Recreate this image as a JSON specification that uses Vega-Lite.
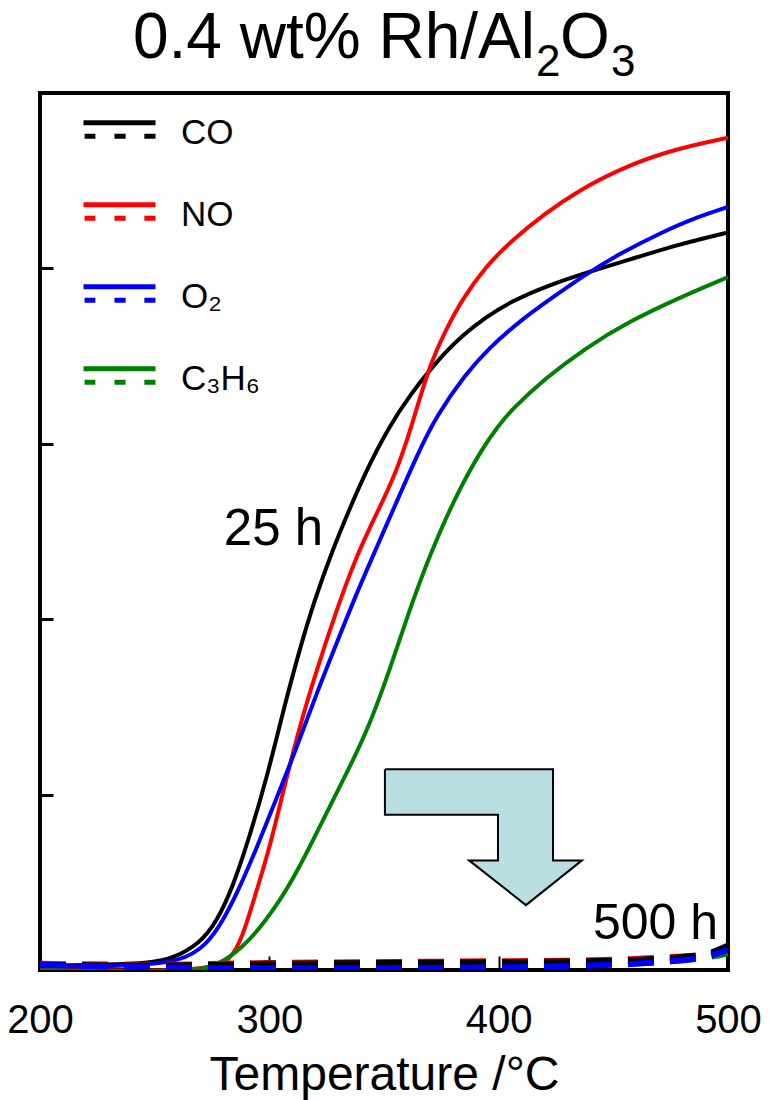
{
  "$schema": "https://vega.github.io/schema/vega-lite/v6.json",
  "width": 688,
  "height": 877,
  "autosize": "none",
  "padding": {"left": 40, "top": 93, "right": 43, "bottom": 130},
  "config": {
    "view": {"stroke": "black", "strokeWidth": 4},
    "axis": {"domain": false, "grid": false, "tickColor": "black", "labelColor": "black", "titleColor": "black", "labelFont": "Liberation Sans", "titleFont": "Liberation Sans", "zindex": 1}
  },
  "datasets": {
    "curves": [
      {"gas": "CO", "time": "25 h", "T": 200, "v": 0.5},
      {"gas": "CO", "time": "25 h", "T": 230, "v": 0.6},
      {"gas": "CO", "time": "25 h", "T": 248, "v": 0.8},
      {"gas": "CO", "time": "25 h", "T": 258, "v": 1.3},
      {"gas": "CO", "time": "25 h", "T": 270, "v": 3.1},
      {"gas": "CO", "time": "25 h", "T": 277, "v": 5.5},
      {"gas": "CO", "time": "25 h", "T": 284, "v": 9.4},
      {"gas": "CO", "time": "25 h", "T": 291, "v": 14.9},
      {"gas": "CO", "time": "25 h", "T": 299, "v": 22.0},
      {"gas": "CO", "time": "25 h", "T": 306, "v": 29.5},
      {"gas": "CO", "time": "25 h", "T": 313, "v": 36.4},
      {"gas": "CO", "time": "25 h", "T": 320, "v": 42.4},
      {"gas": "CO", "time": "25 h", "T": 327, "v": 47.5},
      {"gas": "CO", "time": "25 h", "T": 335, "v": 52.6},
      {"gas": "CO", "time": "25 h", "T": 342, "v": 56.8},
      {"gas": "CO", "time": "25 h", "T": 352, "v": 61.9},
      {"gas": "CO", "time": "25 h", "T": 362, "v": 65.8},
      {"gas": "CO", "time": "25 h", "T": 370, "v": 68.4},
      {"gas": "CO", "time": "25 h", "T": 377, "v": 70.5},
      {"gas": "CO", "time": "25 h", "T": 384, "v": 72.3},
      {"gas": "CO", "time": "25 h", "T": 394, "v": 74.4},
      {"gas": "CO", "time": "25 h", "T": 406, "v": 76.3},
      {"gas": "CO", "time": "25 h", "T": 420, "v": 77.9},
      {"gas": "CO", "time": "25 h", "T": 438, "v": 79.5},
      {"gas": "CO", "time": "25 h", "T": 457, "v": 81.0},
      {"gas": "CO", "time": "25 h", "T": 478, "v": 82.7},
      {"gas": "CO", "time": "25 h", "T": 500, "v": 84.1},

      {"gas": "NO", "time": "25 h", "T": 200, "v": 0.0},
      {"gas": "NO", "time": "25 h", "T": 240, "v": -0.1},
      {"gas": "NO", "time": "25 h", "T": 262, "v": 0.0},
      {"gas": "NO", "time": "25 h", "T": 275, "v": 0.3},
      {"gas": "NO", "time": "25 h", "T": 282.6, "v": 1.0},
      {"gas": "NO", "time": "25 h", "T": 288.3, "v": 3.65},
      {"gas": "NO", "time": "25 h", "T": 294.3, "v": 8.95},
      {"gas": "NO", "time": "25 h", "T": 300, "v": 13.8},
      {"gas": "NO", "time": "25 h", "T": 305.7, "v": 20.0},
      {"gas": "NO", "time": "25 h", "T": 313, "v": 27.6},
      {"gas": "NO", "time": "25 h", "T": 320.4, "v": 34.0},
      {"gas": "NO", "time": "25 h", "T": 329.1, "v": 40.9},
      {"gas": "NO", "time": "25 h", "T": 337.8, "v": 47.1},
      {"gas": "NO", "time": "25 h", "T": 346.5, "v": 51.9},
      {"gas": "NO", "time": "25 h", "T": 355.2, "v": 56.6},
      {"gas": "NO", "time": "25 h", "T": 362.2, "v": 62.1},
      {"gas": "NO", "time": "25 h", "T": 369.6, "v": 68.8},
      {"gas": "NO", "time": "25 h", "T": 377, "v": 73.0},
      {"gas": "NO", "time": "25 h", "T": 383.9, "v": 76.4},
      {"gas": "NO", "time": "25 h", "T": 394.3, "v": 80.2},
      {"gas": "NO", "time": "25 h", "T": 405.7, "v": 83.2},
      {"gas": "NO", "time": "25 h", "T": 420.4, "v": 86.3},
      {"gas": "NO", "time": "25 h", "T": 434.8, "v": 88.9},
      {"gas": "NO", "time": "25 h", "T": 456.5, "v": 91.8},
      {"gas": "NO", "time": "25 h", "T": 478.3, "v": 93.7},
      {"gas": "NO", "time": "25 h", "T": 500, "v": 94.9},

      {"gas": "O₂", "time": "25 h", "T": 200, "v": 0.4},
      {"gas": "O₂", "time": "25 h", "T": 240, "v": 0.4},
      {"gas": "O₂", "time": "25 h", "T": 262, "v": 1.0},
      {"gas": "O₂", "time": "25 h", "T": 272.6, "v": 2.85},
      {"gas": "O₂", "time": "25 h", "T": 279.6, "v": 5.5},
      {"gas": "O₂", "time": "25 h", "T": 287, "v": 9.35},
      {"gas": "O₂", "time": "25 h", "T": 294.3, "v": 13.8},
      {"gas": "O₂", "time": "25 h", "T": 303, "v": 19.5},
      {"gas": "O₂", "time": "25 h", "T": 311.7, "v": 25.2},
      {"gas": "O₂", "time": "25 h", "T": 320.4, "v": 31.4},
      {"gas": "O₂", "time": "25 h", "T": 329.1, "v": 37.1},
      {"gas": "O₂", "time": "25 h", "T": 337.8, "v": 42.8},
      {"gas": "O₂", "time": "25 h", "T": 346.5, "v": 48.0},
      {"gas": "O₂", "time": "25 h", "T": 355.2, "v": 53.2},
      {"gas": "O₂", "time": "25 h", "T": 363.9, "v": 58.4},
      {"gas": "O₂", "time": "25 h", "T": 372.6, "v": 63.1},
      {"gas": "O₂", "time": "25 h", "T": 385.7, "v": 68.0},
      {"gas": "O₂", "time": "25 h", "T": 395.7, "v": 70.9},
      {"gas": "O₂", "time": "25 h", "T": 408.7, "v": 73.9},
      {"gas": "O₂", "time": "25 h", "T": 423, "v": 76.6},
      {"gas": "O₂", "time": "25 h", "T": 437.8, "v": 79.3},
      {"gas": "O₂", "time": "25 h", "T": 452.2, "v": 81.6},
      {"gas": "O₂", "time": "25 h", "T": 470.9, "v": 84.1},
      {"gas": "O₂", "time": "25 h", "T": 487, "v": 85.9},
      {"gas": "O₂", "time": "25 h", "T": 500, "v": 87.0},

      {"gas": "C₃H₆", "time": "25 h", "T": 200, "v": -0.6},
      {"gas": "C₃H₆", "time": "25 h", "T": 230, "v": -0.5},
      {"gas": "C₃H₆", "time": "25 h", "T": 248, "v": -0.4},
      {"gas": "C₃H₆", "time": "25 h", "T": 262, "v": -0.2},
      {"gas": "C₃H₆", "time": "25 h", "T": 270, "v": 0.1},
      {"gas": "C₃H₆", "time": "25 h", "T": 279.6, "v": 0.8},
      {"gas": "C₃H₆", "time": "25 h", "T": 291.3, "v": 3.25},
      {"gas": "C₃H₆", "time": "25 h", "T": 303, "v": 7.2},
      {"gas": "C₃H₆", "time": "25 h", "T": 313, "v": 11.6},
      {"gas": "C₃H₆", "time": "25 h", "T": 323, "v": 16.9},
      {"gas": "C₃H₆", "time": "25 h", "T": 334.8, "v": 23.0},
      {"gas": "C₃H₆", "time": "25 h", "T": 343.5, "v": 27.8},
      {"gas": "C₃H₆", "time": "25 h", "T": 352.2, "v": 34.0},
      {"gas": "C₃H₆", "time": "25 h", "T": 360.9, "v": 40.9},
      {"gas": "C₃H₆", "time": "25 h", "T": 369.6, "v": 47.1},
      {"gas": "C₃H₆", "time": "25 h", "T": 381.3, "v": 54.1},
      {"gas": "C₃H₆", "time": "25 h", "T": 392.6, "v": 59.4},
      {"gas": "C₃H₆", "time": "25 h", "T": 400, "v": 62.1},
      {"gas": "C₃H₆", "time": "25 h", "T": 405.7, "v": 63.9},
      {"gas": "C₃H₆", "time": "25 h", "T": 420.4, "v": 67.5},
      {"gas": "C₃H₆", "time": "25 h", "T": 437.8, "v": 70.9},
      {"gas": "C₃H₆", "time": "25 h", "T": 456.5, "v": 73.9},
      {"gas": "C₃H₆", "time": "25 h", "T": 478.3, "v": 76.6},
      {"gas": "C₃H₆", "time": "25 h", "T": 500, "v": 79.0},

      {"gas": "NO", "time": "500 h", "T": 200, "v": 0.7},
      {"gas": "NO", "time": "500 h", "T": 250, "v": 0.6},
      {"gas": "NO", "time": "500 h", "T": 300, "v": 0.8},
      {"gas": "NO", "time": "500 h", "T": 350, "v": 0.9},
      {"gas": "NO", "time": "500 h", "T": 400, "v": 1.0},
      {"gas": "NO", "time": "500 h", "T": 440, "v": 1.1},
      {"gas": "NO", "time": "500 h", "T": 470, "v": 1.4},
      {"gas": "NO", "time": "500 h", "T": 490, "v": 1.8},
      {"gas": "NO", "time": "500 h", "T": 500, "v": 2.3},

      {"gas": "C₃H₆", "time": "500 h", "T": 200, "v": 0.5},
      {"gas": "C₃H₆", "time": "500 h", "T": 250, "v": 0.4},
      {"gas": "C₃H₆", "time": "500 h", "T": 300, "v": 0.3},
      {"gas": "C₃H₆", "time": "500 h", "T": 350, "v": 0.3},
      {"gas": "C₃H₆", "time": "500 h", "T": 400, "v": 0.5},
      {"gas": "C₃H₆", "time": "500 h", "T": 440, "v": 0.6},
      {"gas": "C₃H₆", "time": "500 h", "T": 470, "v": 0.9},
      {"gas": "C₃H₆", "time": "500 h", "T": 490, "v": 1.4},
      {"gas": "C₃H₆", "time": "500 h", "T": 500, "v": 1.9},

      {"gas": "CO", "time": "500 h", "T": 200, "v": 0.6},
      {"gas": "CO", "time": "500 h", "T": 250, "v": 0.5},
      {"gas": "CO", "time": "500 h", "T": 300, "v": 0.7},
      {"gas": "CO", "time": "500 h", "T": 350, "v": 0.8},
      {"gas": "CO", "time": "500 h", "T": 400, "v": 0.9},
      {"gas": "CO", "time": "500 h", "T": 440, "v": 1.0},
      {"gas": "CO", "time": "500 h", "T": 470, "v": 1.3},
      {"gas": "CO", "time": "500 h", "T": 490, "v": 1.8},
      {"gas": "CO", "time": "500 h", "T": 500, "v": 2.8},

      {"gas": "O₂", "time": "500 h", "T": 200, "v": 0.6},
      {"gas": "O₂", "time": "500 h", "T": 250, "v": 0.3},
      {"gas": "O₂", "time": "500 h", "T": 300, "v": 0.2},
      {"gas": "O₂", "time": "500 h", "T": 350, "v": 0.2},
      {"gas": "O₂", "time": "500 h", "T": 400, "v": 0.3},
      {"gas": "O₂", "time": "500 h", "T": 440, "v": 0.5},
      {"gas": "O₂", "time": "500 h", "T": 470, "v": 0.9},
      {"gas": "O₂", "time": "500 h", "T": 490, "v": 1.5},
      {"gas": "O₂", "time": "500 h", "T": 500, "v": 2.3}
    ],
    "arrow": [
      {"i": 1, "T": 350.4, "v": 22.9},
      {"i": 2, "T": 423.7, "v": 22.9},
      {"i": 3, "T": 423.7, "v": 12.5},
      {"i": 4, "T": 436.3, "v": 12.5},
      {"i": 5, "T": 411.9, "v": 7.4},
      {"i": 6, "T": 387.1, "v": 12.5},
      {"i": 7, "T": 399.7, "v": 12.5},
      {"i": 8, "T": 399.7, "v": 17.7},
      {"i": 9, "T": 350.4, "v": 17.7},
      {"i": 10, "T": 350.4, "v": 22.9}
    ]
  },
  "encoding": {
    "x": {"field": "T", "type": "quantitative", "scale": {"domain": [200, 500], "nice": false, "zero": false},
      "axis": {"values": [200, 300, 400, 500], "tickSize": -14, "tickWidth": 2, "labelFontSize": 40, "labelPadding": 44, "labelFlush": false,
        "title": "Temperature /°C", "titleFontSize": 48, "titleFontWeight": "normal", "titlePadding": 11}},
    "y": {"field": "v", "type": "quantitative", "scale": {"domain": [0, 100], "nice": false},
      "axis": {"values": [20, 40, 60, 80], "tickSize": -13, "tickWidth": 3, "labels": false, "title": null}}
  },
  "layer": [
    {
      "data": {"name": "curves"},
      "transform": [{"filter": "datum.time === '25 h'"}],
      "mark": {"type": "line", "strokeWidth": 4, "clip": true, "interpolate": "basis"},
      "encoding": {
        "color": {"field": "gas", "type": "nominal",
          "scale": {"domain": ["CO", "NO", "O₂", "C₃H₆"], "range": ["#000000", "#ff0000", "#0000ff", "#008000"]},
          "legend": {"orient": "none", "legendX": 41, "legendY": -2, "title": null,
            "symbolType": "M-1,-0.19H1M-0.97,0.19H-0.67M-0.14,0.19H0.17M0.69,0.19H1",
            "symbolSize": 5184, "symbolStrokeWidth": 5, "rowPadding": 22, "labelFontSize": 35, "labelOffset": 23,
            "labelFont": "Liberation Sans", "labelColor": "black", "padding": 0, "labelLimit": 0,
            "encode": {
              "labels": {"update": {"dy": {"value": 3}}},
              "symbols": {"update": {"strokeDash": {"value": []}, "strokeWidth": {"value": 5}, "fill": {"value": "transparent"}, "strokeCap": {"value": "butt"}}}
            }}
        }
      }
    },
    {
      "data": {"name": "curves"},
      "transform": [{"filter": "datum.time === '500 h'"}],
      "mark": {"type": "line", "strokeWidth": 6, "strokeDash": [26, 16], "clip": true, "interpolate": "monotone"},
      "encoding": {
        "color": {"field": "gas", "type": "nominal",
          "scale": {"domain": ["CO", "NO", "O₂", "C₃H₆"], "range": ["#000000", "#ff0000", "#0000ff", "#008000"]},
          "legend": {"orient": "none", "legendX": 41, "legendY": -2, "title": null,
            "symbolType": "M-1,-0.19H1M-0.97,0.19H-0.67M-0.14,0.19H0.17M0.69,0.19H1",
            "symbolSize": 5184, "symbolStrokeWidth": 5, "rowPadding": 22, "labelFontSize": 35, "labelOffset": 23,
            "labelFont": "Liberation Sans", "labelColor": "black", "padding": 0, "labelLimit": 0,
            "encode": {
              "labels": {"update": {"dy": {"value": 3}}},
              "symbols": {"update": {"strokeDash": {"value": []}, "strokeWidth": {"value": 5}, "fill": {"value": "transparent"}, "strokeCap": {"value": "butt"}}}
            }}
        },
        "order": {"value": 0}
      }
    },
    {
      "data": {"name": "arrow"},
      "mark": {"type": "line", "fill": "#badfe3", "stroke": "black", "strokeWidth": 2, "strokeJoin": "miter"},
      "encoding": {"order": {"field": "i", "type": "quantitative"}}
    },
    {
      "data": {"values": [{"T": 301.8, "v": 48.5}]},
      "mark": {"type": "text", "fontSize": 51, "font": "Liberation Sans", "color": "black", "align": "center", "baseline": "alphabetic"},
      "encoding": {"text": {"value": "25 h"}}
    },
    {
      "data": {"values": [{"T": 468.4, "v": 3.5}]},
      "mark": {"type": "text", "fontSize": 50, "font": "Liberation Sans", "color": "black", "align": "center", "baseline": "alphabetic"},
      "encoding": {"text": {"value": "500 h"}}
    },
    {
      "data": {"values": [{"T": 240.55, "v": 103.99}]},
      "mark": {"type": "text", "fontSize": 64, "font": "Liberation Sans", "color": "black", "align": "left", "baseline": "alphabetic"},
      "encoding": {"text": {"value": "0.4 wt% Rh/Al"}}
    },
    {
      "data": {"values": [{"T": 416.28, "v": 101.94}]},
      "mark": {"type": "text", "fontSize": 44, "font": "Liberation Sans", "color": "black", "align": "left", "baseline": "alphabetic"},
      "encoding": {"text": {"value": "2"}}
    },
    {
      "data": {"values": [{"T": 426.74, "v": 103.99}]},
      "mark": {"type": "text", "fontSize": 64, "font": "Liberation Sans", "color": "black", "align": "left", "baseline": "alphabetic"},
      "encoding": {"text": {"value": "O"}}
    },
    {
      "data": {"values": [{"T": 448.98, "v": 101.94}]},
      "mark": {"type": "text", "fontSize": 44, "font": "Liberation Sans", "color": "black", "align": "left", "baseline": "alphabetic"},
      "encoding": {"text": {"value": "3"}}
    }
  ]
}
